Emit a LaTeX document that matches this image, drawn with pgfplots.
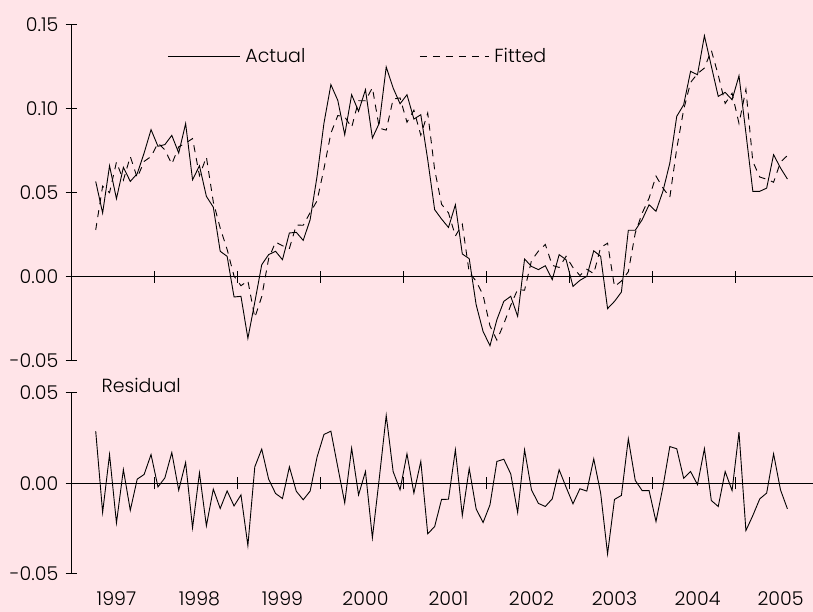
\documentclass[border=0pt]{standalone}
\usepackage{fontspec}
\IfFontExistsTF{Poppins Light}{\setmainfont{Poppins Light}}{\setmainfont{Poppins}}
\usepackage{pgfplots}
\usepackage{pgfplotstable}
\pgfplotsset{compat=1.18}
\definecolor{bgpink}{RGB}{255,228,232}
\newcommand\chf{\fontsize{19bp}{23bp}\selectfont}

% k = month index (0 = April 1997, 100 = August 2005)
\pgfplotstableread{
k a f r
0 0.0569 0.0280 0.0289
1 0.0381 0.0541 -0.0160
2 0.0662 0.0502 0.0160
3 0.0466 0.0684 -0.0218
4 0.0653 0.0576 0.0077
5 0.0569 0.0717 -0.0148
6 0.0615 0.0591 0.0024
7 0.0738 0.0688 0.0050
8 0.0877 0.0717 0.0160
9 0.0778 0.0797 -0.0019
10 0.0788 0.0757 0.0031
11 0.0843 0.0672 0.0171
12 0.0738 0.0775 -0.0037
13 0.0913 0.0797 0.0116
14 0.0579 0.0824 -0.0245
15 0.0662 0.0603 0.0059
16 0.0480 0.0714 -0.0234
17 0.0416 0.0447 -0.0031
18 0.0153 0.0291 -0.0138
19 0.0123 0.0164 -0.0041
20 -0.0119 0.0005 -0.0124
21 -0.0115 -0.0052 -0.0063
22 -0.0365 -0.0022 -0.0343
23 -0.0150 -0.0242 0.0092
24 0.0073 -0.0117 0.0190
25 0.0133 0.0109 0.0024
26 0.0153 0.0208 -0.0055
27 0.0103 0.0186 -0.0083
28 0.0262 0.0170 0.0092
29 0.0266 0.0309 -0.0043
30 0.0218 0.0308 -0.0090
31 0.0341 0.0383 -0.0042
32 0.0599 0.0453 0.0146
33 0.0916 0.0645 0.0271
34 0.1145 0.0856 0.0289
35 0.1051 0.0961 0.0090
36 0.0847 0.0954 -0.0107
37 0.1085 0.0890 0.0195
38 0.0986 0.1049 -0.0063
39 0.1115 0.1049 0.0066
40 0.0827 0.1127 -0.0300
41 0.0916 0.0886 0.0030
42 0.1250 0.0874 0.0376
43 0.1125 0.1059 0.0066
44 0.1031 0.1066 -0.0035
45 0.1085 0.0921 0.0164
46 0.0940 0.0993 -0.0053
47 0.0966 0.0844 0.0122
48 0.0698 0.0976 -0.0278
49 0.0401 0.0639 -0.0238
50 0.0345 0.0433 -0.0088
51 0.0295 0.0382 -0.0087
52 0.0430 0.0244 0.0186
53 0.0137 0.0314 -0.0177
54 0.0109 0.0026 0.0083
55 -0.0165 -0.0025 -0.0140
56 -0.0324 -0.0108 -0.0216
57 -0.0409 -0.0291 -0.0118
58 -0.0254 -0.0376 0.0122
59 -0.0145 -0.0279 0.0134
60 -0.0115 -0.0168 0.0053
61 -0.0234 -0.0074 -0.0160
62 0.0107 -0.0079 0.0186
63 0.0063 0.0098 -0.0035
64 0.0044 0.0154 -0.0110
65 0.0067 0.0194 -0.0127
66 -0.0016 0.0069 -0.0085
67 0.0133 0.0057 0.0076
68 0.0103 0.0123 -0.0020
69 -0.0056 0.0056 -0.0112
70 -0.0020 0.0009 -0.0029
71 0.0004 0.0046 -0.0042
72 0.0156 0.0020 0.0136
73 0.0123 0.0176 -0.0053
74 -0.0188 0.0201 -0.0389
75 -0.0145 -0.0057 -0.0088
76 -0.0090 -0.0024 -0.0066
77 0.0278 0.0031 0.0247
78 0.0278 0.0261 0.0017
79 0.0341 0.0380 -0.0039
80 0.0430 0.0469 -0.0039
81 0.0391 0.0601 -0.0210
82 0.0510 0.0530 -0.0020
83 0.0678 0.0474 0.0204
84 0.0956 0.0764 0.0192
85 0.1025 0.0996 0.0029
86 0.1224 0.1158 0.0066
87 0.1204 0.1210 -0.0006
88 0.1436 0.1244 0.0192
89 0.1255 0.1349 -0.0094
90 0.1075 0.1202 -0.0127
91 0.1099 0.1033 0.0066
92 0.1055 0.1094 -0.0039
93 0.1198 0.0914 0.0284
94 0.0857 0.1117 -0.0260
95 0.0510 0.0687 -0.0177
96 0.0510 0.0595 -0.0085
97 0.0529 0.0582 -0.0053
98 0.0728 0.0564 0.0164
99 0.0649 0.0684 -0.0035
100 0.0583 0.0723 -0.0140
}\data

\pgfplotsset{
  common/.style={
    scale only axis, width=741.5bp,
    xmin=-3.5, xmax=103.7,
    axis y line=left, axis x line=middle,
    axis line style={-, line width=1bp, black},
    tick style={black, line width=1bp},
    major tick length=12bp, tick align=center,
    xtick={8.5,20.5,...,92.5},
    xticklabels={{},{},{},{},{},{},{},{}},
    hide obscured x ticks=false, hide obscured y ticks=false,
    scaled y ticks=false,
    /pgf/number format/assume math mode=true,
    ticklabel style={font=\chf},
    yticklabel style={/pgf/number format/fixed, /pgf/number format/fixed zerofill,
      /pgf/number format/precision=2, anchor=east, inner sep=0pt, xshift=-7bp},
  },
  dataline/.style={black, line width=0.9bp},
}

\begin{document}
\begin{tikzpicture}
\useasboundingbox (0,0) rectangle (813bp,612bp);
\fill[bgpink] (0,0) rectangle (813bp,612bp);

% Top panel
\begin{axis}[common,
  at={(71.5bp,251bp)}, anchor=south west, height=336bp,
  ymin=-0.05, ymax=0.15, ytick={-0.05,0,0.05,0.1,0.15},
  legend columns=2, legend cell align=left,
  legend style={draw=none, fill=none, at={(0.1292,0.9072)}, anchor=west,
    font=\chf, inner sep=0pt, column sep=5bp,
    /tikz/every even column/.append style={column sep=114bp},
    nodes={inner sep=0pt}},
]
\addplot[dataline, legend image code/.code={\draw[black, line width=0.9bp] (0bp,0bp) -- (72bp,0bp);}]
  table[x=k, y=a] {\data};
\addlegendentry{Actual}
\addplot[dataline, dash pattern=on 7bp off 6bp,
  legend image code/.code={\draw[black, line width=0.9bp, dash pattern=on 7bp off 6bp] (0bp,0bp) -- (69bp,0bp);}]
  table[x=k, y=f] {\data};
\addlegendentry{Fitted}
\end{axis}

% Bottom panel
\begin{axis}[common,
  at={(71.5bp,38bp)}, anchor=south west, height=181bp,
  ymin=-0.05, ymax=0.05, ytick={-0.05,0,0.05},
]
\addplot[dataline] table[x=k, y=r] {\data};
\end{axis}

% Year labels under the bottom panel
\begin{axis}[scale only axis, width=741.5bp, height=181bp,
  at={(71.5bp,38bp)}, anchor=south west,
  xmin=-3.5, xmax=103.7, ymin=-0.05, ymax=0.05,
  axis x line=bottom, axis y line=none,
  x axis line style={draw=none},
  xtick={3,15,...,99},
  xticklabels={1997,1998,1999,2000,2001,2002,2003,2004,2005},
  major tick length=0pt,
  xticklabel style={font=\chf, anchor=north, inner sep=0pt, yshift=-17.7bp},
]
\end{axis}

\node[anchor=base west, inner sep=0pt, font=\chf] at (101.5bp,219.7bp) {Residual};
\end{tikzpicture}
\end{document}
